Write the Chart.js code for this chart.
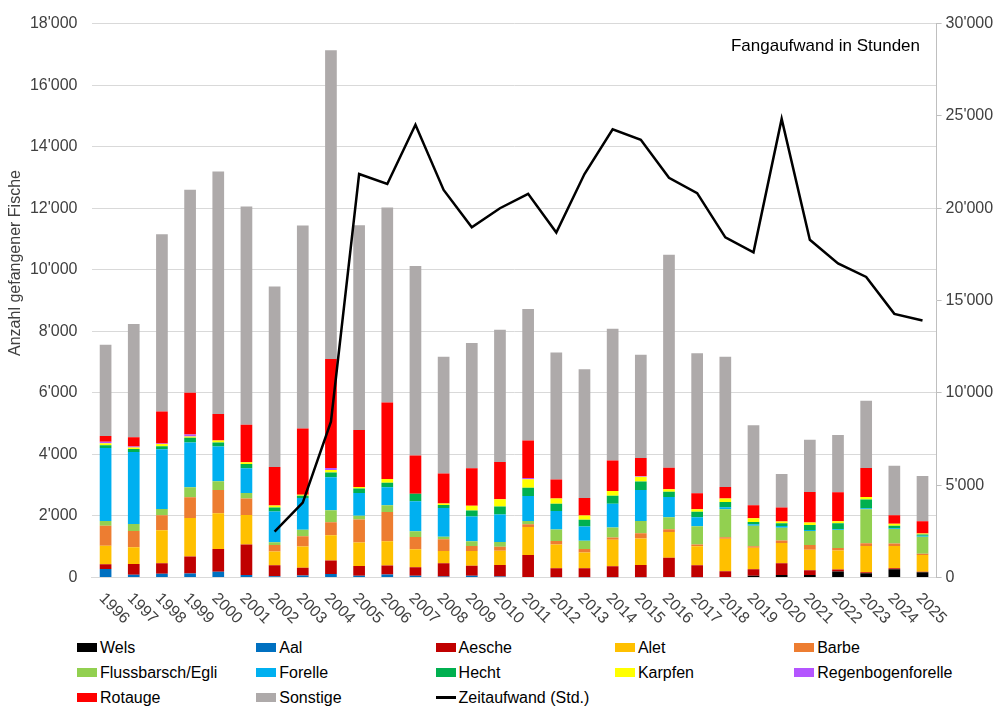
<!DOCTYPE html>
<html>
<head>
<meta charset="utf-8">
<script src="https://cdn.jsdelivr.net/npm/chart.js@4.4.1/dist/chart.umd.min.js"></script>
<style>
  body { margin: 0; background: #fff; font-family: 'Liberation Sans', Arial, sans-serif; }
  #wrap { position: relative; width: 1000px; height: 706px; }
  #chart-box { position: absolute; left: 0; top: 0; width: 1000px; height: 632px; }
  #legend { position: absolute; left: 77px; top: 635px; display: grid; grid-template-columns: repeat(5, 179.3px); }
  .item { display: flex; align-items: center; height: 25px; font-size: 16px; color: #000; white-space: nowrap; }
  .swatch { width: 20px; height: 9px; margin-right: 3px; flex: none; }
  .swatch.line { height: 3px; }
</style>
</head>
<body>
<div id="wrap">
  <div id="chart-box"><canvas id="fish-chart"></canvas></div>
  <div id="legend"></div>
</div>
<script>
const years = ['1996','1997','1998','1999','2000','2001','2002','2003','2004','2005','2006','2007','2008','2009','2010',
  '2011','2012','2013','2014','2015','2016','2017','2018','2019','2020','2021','2022','2023','2024','2025'];

// Anzahl gefangener Fische je Art
const wels       = [0,0,0,0,0,0,0,0,0,0,0,0,0,0,0,0,0,0,0,0,0,0,0,55,85,85,195,140,270,170];
const aal        = [280,90,120,130,185,85,40,65,110,55,100,55,30,55,30,20,10,10,10,10,15,10,0,0,0,0,0,0,0,0];
const aesche     = [150,345,345,550,745,990,355,250,445,315,290,280,430,325,375,710,290,290,355,400,625,390,205,215,375,150,65,30,30,20];
const alet       = [600,550,1070,1250,1155,960,450,690,820,770,790,585,400,485,465,915,775,515,860,860,840,615,1055,700,660,670,615,850,720,540];
const barbe      = [650,530,485,680,755,530,215,335,420,745,950,400,380,160,130,85,110,110,75,170,85,55,45,45,85,150,85,97,85,45];
const egli       = [160,225,205,325,290,185,85,215,390,120,215,185,85,150,150,110,375,270,325,400,390,595,915,670,410,455,580,1100,475,550];
const forelle    = [2370,2340,1940,1455,1130,800,1000,1030,1070,745,585,975,930,810,895,810,605,465,775,1000,660,290,65,45,55,30,30,30,20,30];
const hecht      = [90,97,97,150,130,140,130,75,160,140,150,240,97,195,260,270,235,215,260,280,170,185,170,75,97,170,195,290,85,45];
const karpfen    = [60,50,75,45,65,55,65,30,75,55,120,0,55,150,235,270,170,140,150,150,85,75,110,120,55,75,65,75,65,30];
const regenbogen = [50,30,20,65,0,0,0,0,65,0,0,0,0,0,0,40,0,0,0,30,0,0,0,0,0,0,0,0,0,0];
const rotauge    = [190,300,1035,1350,860,1220,1250,2150,3545,1850,2485,1245,975,1220,1210,1220,615,570,990,580,700,520,375,420,450,990,940,950,270,400];
const sonstige   = [2960,3680,5760,6600,7875,7095,5870,6600,10030,6650,6335,6160,3790,4070,4300,4275,4125,4180,4285,3360,6915,4555,4230,2605,1095,1700,1860,2180,1610,1470];

// Fangaufwand in Stunden (rechte Achse)
const zeitaufwand = [null,null,null,null,null,null,2480,4060,8440,21850,21310,24520,20990,18970,20000,20780,18680,21850,24270,23710,
  21650,20820,18420,17610,24840,18290,17010,16280,14280,13920];

const leftTicks = [0,2000,4000,6000,8000,10000,12000,14000,16000,18000];
const rightTicks = [0,5000,10000,15000,20000,25000,30000];

const yTitle = 'Anzahl gefangener Fische';
const noteText = 'Fangaufwand in Stunden';

const series = [
  { label: 'Wels', data: wels, color: '#000000' },
  { label: 'Aal', data: aal, color: '#0070c0' },
  { label: 'Aesche', data: aesche, color: '#c00000' },
  { label: 'Alet', data: alet, color: '#ffc000' },
  { label: 'Barbe', data: barbe, color: '#ed7d31' },
  { label: 'Flussbarsch/Egli', data: egli, color: '#92d050' },
  { label: 'Forelle', data: forelle, color: '#00b0f0' },
  { label: 'Hecht', data: hecht, color: '#00b050' },
  { label: 'Karpfen', data: karpfen, color: '#ffff00' },
  { label: 'Regenbogenforelle', data: regenbogen, color: '#b455ff' },
  { label: 'Rotauge', data: rotauge, color: '#ff0000' },
  { label: 'Sonstige', data: sonstige, color: '#aeaaaa' }
];

const fontFamily = "'Liberation Sans', Arial, sans-serif";
const fmt = v => String(v).replace(/\B(?=(\d{3})+(?!\d))/g, "'");

// texts that chart.js can't place like excel does
const excelText = {
  id: 'excelText',
  afterDraw(chart) {
    const ctx = chart.ctx;
    const x = chart.scales.x;
    ctx.save();
    ctx.fillStyle = '#404040';
    ctx.font = '16px ' + fontFamily;
    ctx.textAlign = 'left';
    ctx.textBaseline = 'middle';
    years.forEach((yr, i) => {
      ctx.save();
      ctx.translate(x.getPixelForValue(i) - 4, 596);
      ctx.rotate(Math.PI / 4);
      ctx.fillText(yr, 0, 0);
      ctx.restore();
    });

    ctx.save();
    ctx.translate(16, 263);
    ctx.rotate(-Math.PI / 2);
    ctx.textAlign = 'center';
    ctx.font = '16px ' + fontFamily;
    ctx.fillText(yTitle, 0, 0);
    ctx.restore();

    ctx.fillStyle = '#000';
    ctx.font = '17px ' + fontFamily;
    ctx.textAlign = 'right';
    ctx.fillText(noteText, 920, 46);
    ctx.restore();
  }
};

const datasets = series.map(s => ({
  type: 'bar',
  label: s.label,
  data: s.data,
  backgroundColor: s.color,
  borderWidth: 0,
  yAxisID: 'y',
  order: 1,
  barPercentage: 0.415,
  categoryPercentage: 1
}));

datasets.push({
  type: 'line',
  label: 'Zeitaufwand (Std.)',
  data: zeitaufwand,
  borderColor: '#000',
  borderWidth: 2.5,
  pointRadius: 0,
  tension: 0,
  yAxisID: 'y1',
  order: 0
});

const ctx = document.getElementById('fish-chart').getContext('2d');
const chart = new Chart(ctx, {
  data: { labels: years, datasets },
  options: {
    responsive: true,
    maintainAspectRatio: false,
    animation: false,
    layout: { padding: { top: 21, left: 0, right: 0, bottom: 0 } },
    plugins: { legend: { display: false }, tooltip: { enabled: false } },
    scales: {
      x: {
        stacked: true,
        grid: { display: false },
        border: { display: true, color: '#d9d9d9' },
        ticks: { display: false },
        afterFit: s => { s.height = 54.5; }
      },
      y: {
        stacked: true,
        position: 'left',
        min: 0,
        max: 18000,
        afterBuildTicks: s => { s.ticks = leftTicks.map(v => ({ value: v })); },
        ticks: { callback: v => fmt(v), color: '#404040', font: { size: 16, family: fontFamily }, padding: 14 },
        grid: { color: '#d9d9d9', drawTicks: false },
        border: { display: false },
        afterFit: s => { s.width = 91.5; }
      },
      y1: {
        position: 'right',
        min: 0,
        max: 30000,
        afterBuildTicks: s => { s.ticks = rightTicks.map(v => ({ value: v })); },
        ticks: { callback: v => fmt(v), color: '#404040', font: { size: 16, family: fontFamily }, padding: 4 },
        grid: { drawOnChartArea: false, color: '#bfbfbf', tickLength: 5 },
        border: { display: true, color: '#bfbfbf' },
        afterFit: s => { s.width = 63.4; }
      }
    }
  },
  plugins: [excelText]
});

// legend as html grid, 5 columns like the original
const legendEl = document.getElementById('legend');
const legendItems = series.map(s => ({ label: s.label, color: s.color, line: false }));
legendItems.push({ label: 'Zeitaufwand (Std.)', color: '#000', line: true });
legendItems.forEach(it => {
  const div = document.createElement('div');
  div.className = 'item';
  const sw = document.createElement('span');
  sw.className = it.line ? 'swatch line' : 'swatch';
  sw.style.background = it.color;
  div.appendChild(sw);
  div.appendChild(document.createTextNode(it.label));
  legendEl.appendChild(div);
});
</script>
</body>
</html>
